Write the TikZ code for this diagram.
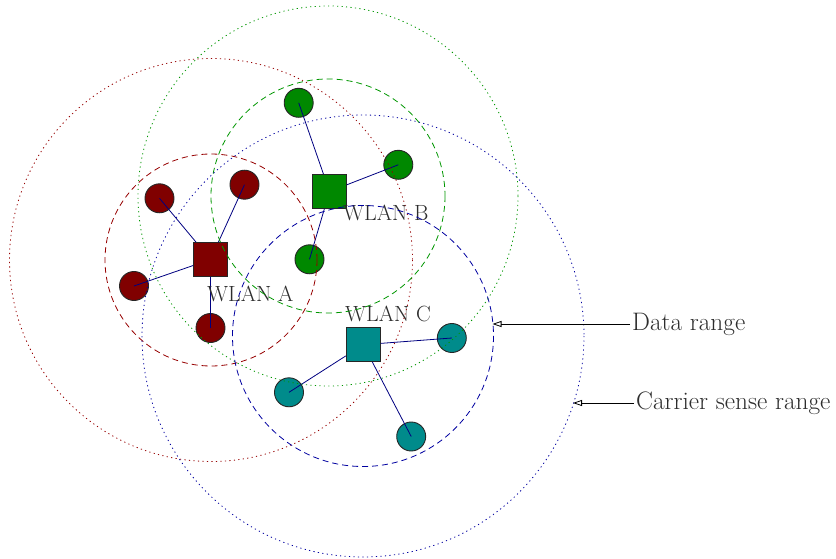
\documentclass[tikz,border=0pt]{standalone}
\usetikzlibrary{arrows.meta}
\definecolor{cA}{RGB}{128,0,0}
\definecolor{cB}{RGB}{0,136,0}
\definecolor{cC}{RGB}{0,139,139}
\definecolor{rngA}{RGB}{150,0,0}
\definecolor{rngB}{RGB}{0,150,0}
\definecolor{rngC}{RGB}{0,0,160}
\definecolor{link}{RGB}{0,0,128}
\definecolor{txt}{RGB}{45,45,45}
\begin{document}
\begin{tikzpicture}[x=1pt,y=-1pt,
  apbox/.style={draw=black!85,line width=0.9pt,minimum size=34pt,inner sep=0pt,fill=#1},
  sta/.style={circle,draw=black!85,line width=0.9pt,minimum size=29pt,inner sep=0pt,fill=#1},
  lnk/.style={draw=link,line width=0.8pt},
  datarng/.style={draw=#1,line width=0.8pt,dash pattern=on 6pt off 4pt},
  csrng/.style={draw=#1,line width=0.8pt,dash pattern=on 1.2pt off 3.3pt},
  lbl/.style={text=txt,font=\fontsize{22}{26}\selectfont,inner sep=0pt},
  biglbl/.style={text=txt,font=\fontsize{25.3}{30}\selectfont,inner sep=2pt},
  callout/.style={draw=black,line width=0.8pt,-{Triangle[open,length=9pt,width=6pt]}}]
\useasboundingbox (0,0) rectangle (836,559);
% WLAN A
\node[apbox=cA] (apA) at (210.5,259.5) {};
\node[sta=cA] (a1) at (159.5,198.3) {};
\node[sta=cA] (a2) at (244.5,184.7) {};
\node[sta=cA] (a3) at (134,286) {};
\node[sta=cA] (a4) at (210.5,328) {};
% WLAN B
\node[apbox=cB] (apB) at (329.5,191.5) {};
\node[sta=cB] (b1) at (298.7,102.8) {};
\node[sta=cB] (b2) at (398.3,164.8) {};
\node[sta=cB] (b3) at (309.5,259.3) {};
% WLAN C
\node[apbox=cC] (apC) at (363.3,344.7) {};
\node[sta=cC] (c1) at (451.8,338) {};
\node[sta=cC] (c2) at (289,392.3) {};
\node[sta=cC] (c3) at (411.2,436.5) {};
% links
\foreach \s in {a1,a2,a3,a4} \draw[lnk] (\s.center) -- (apA);
\foreach \s in {b1,b2,b3} \draw[lnk] (\s.center) -- (apB);
\foreach \s in {c1,c2,c3} \draw[lnk] (\s.center) -- (apC);
% labels
\node[lbl,anchor=base west] (labA) at (207,301) {WLAN A};
\node[lbl,anchor=base west] (labB) at (343,220) {WLAN B};
\node[lbl,anchor=base west] (labC) at (345,321) {WLAN C};
% ranges
\coordinate (cenA) at (211,260);
\coordinate (cenB) at (328,196);
\coordinate (cenC) at (363,336);
\draw[datarng=rngA] (cenA) circle[radius=106];
\draw[csrng=rngA] (cenA) circle[radius=201.5];
\draw[datarng=rngB] (cenB) circle[radius=117];
\draw[csrng=rngB] (cenB) circle[radius=190];
\draw[datarng=rngC] (cenC) circle[radius=130.5];
\draw[csrng=rngC] (cenC) circle[radius=221];
% callouts
\node[biglbl,anchor=west] (dr) at (630,324) {Data range};
\node[biglbl,anchor=west] (cs) at (634,403) {Carrier sense range};
\coordinate (drtip) at (492.5,324);
\coordinate (cstip) at (573,403);
\draw[callout] (dr.west) -- (drtip);
\draw[callout] (cs.west) -- (cstip);
\end{tikzpicture}
\end{document}
